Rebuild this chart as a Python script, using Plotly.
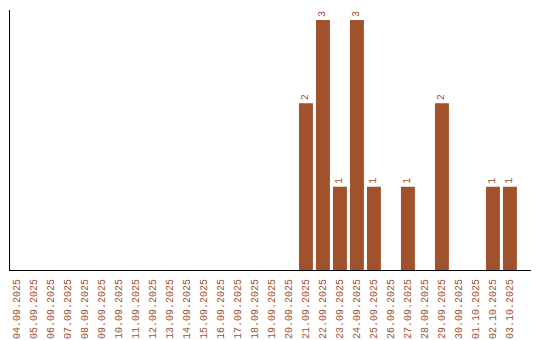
import plotly.graph_objects as go

dates = ["04.09.2025","05.09.2025","06.09.2025","07.09.2025","08.09.2025","09.09.2025",
         "10.09.2025","11.09.2025","12.09.2025","13.09.2025","14.09.2025","15.09.2025",
         "16.09.2025","17.09.2025","18.09.2025","19.09.2025","20.09.2025","21.09.2025",
         "22.09.2025","23.09.2025","24.09.2025","25.09.2025","26.09.2025","27.09.2025",
         "28.09.2025","29.09.2025","30.09.2025","01.10.2025","02.10.2025","03.10.2025"]
values = [0,0,0,0,0,0,0,0,0,0,0,0,0,0,0,0,0,2,3,1,3,1,0,1,0,2,0,0,1,1]

color = "#a0522d"
font_family = "Liberation Mono, Courier New, monospace"

texts = [str(v) if v else "" for v in values]

fig = go.Figure(go.Bar(
    x=list(range(len(dates))), y=values,
    marker=dict(color=color, line=dict(width=0)),
    text=texts, textposition="outside", textangle=-90,
    textfont=dict(color=color, size=10, family=font_family),
    cliponaxis=False,
    width=0.82,
))

fig.update_layout(
    width=540, height=340,
    margin=dict(l=10, r=9, t=10, b=70),
    paper_bgcolor="white", plot_bgcolor="white",
    showlegend=False,
    xaxis=dict(
        tickmode="array", tickvals=list(range(len(dates))), ticktext=dates,
        tickangle=-90, tickfont=dict(color=color, size=10, family=font_family),
        range=[-0.41, 30.24], showline=True, linecolor="black", linewidth=1,
        showgrid=False, zeroline=False, ticks="", automargin=False,
        ticklabelstandoff=4,
    ),
    yaxis=dict(
        range=[0, 3.12], showline=True, linecolor="black", linewidth=1,
        showgrid=False, zeroline=False, showticklabels=False, ticks="",
        automargin=False,
    ),
)

fig.write_html("out.html")
